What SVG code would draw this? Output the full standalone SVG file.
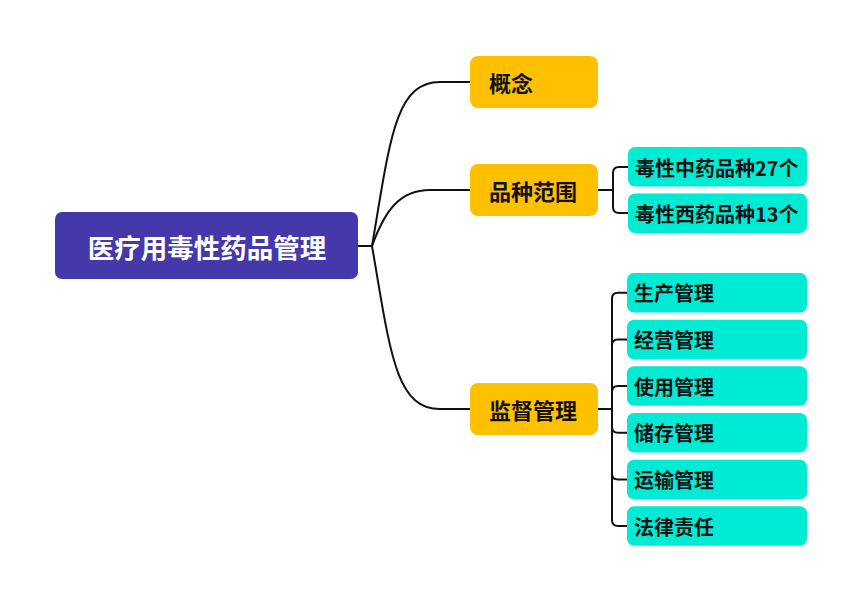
<svg xmlns="http://www.w3.org/2000/svg" width="858" height="604" viewBox="0 0 858 604">
<style>
.root{fill:#4538AA}
.main{fill:#FFC000}
.sub{fill:#00EBD4}
text{font-family:"Noto Sans CJK SC","Noto Sans",sans-serif;font-weight:bold;dominant-baseline:central}
.rt{fill:#fff;font-size:26.5px}
.mt{fill:#111;font-size:22px}
.st{fill:#111;font-size:20px}
.c{fill:none;stroke:#111;stroke-width:2}
</style>
<rect width="858" height="604" fill="#fff"/>
<g id="connectors">
<path class="c" d="M358,246 L372,246"/>
<path class="c" d="M372,246 C390,140 395,82 440,82 L470,82"/>
<path class="c" d="M372,246 C385,210 400,190 430,190 L470,190"/>
<path class="c" d="M372,246 C390,350 395,409 440,409 L470,409"/>
<path class="c" d="M598,190 L613,190 M628,167 L619,167 Q613,167 613,173 L613,207 Q613,213 619,213 L628,213"/>
<path class="c" d="M598,409 L612,409 M627,292.7 L618,292.7 Q612,292.7 612,298.7 L612,520 Q612,526 618,526 L627,526 M612,345.4 Q612,339.4 618,339.4 L627,339.4 M612,392 Q612,386 618,386 L627,386 M612,426.7 Q612,432.7 618,432.7 L627,432.7 M612,473.4 Q612,479.4 618,479.4 L627,479.4"/>
</g>
<g id="root"><rect class="root" x="55" y="212" width="303" height="67" rx="7"/><text class="rt" x="207" y="246" text-anchor="middle">医疗用毒性药品管理</text></g>
<g id="n1"><rect class="main" x="470" y="56" width="128" height="52" rx="8"/><text class="mt" x="489" y="82">概念</text></g>
<g id="n2"><rect class="main" x="470" y="164" width="128" height="52" rx="8"/><text class="mt" x="489" y="190">品种范围</text></g>
<g id="n3"><rect class="main" x="470" y="383" width="128" height="52" rx="8"/><text class="mt" x="489" y="409">监督管理</text></g>
<g id="s1"><rect class="sub" x="628" y="147" width="179" height="39.5" rx="7"/><text class="st" x="635" y="167">毒性中药品种27个</text></g>
<g id="s2"><rect class="sub" x="628" y="193.5" width="179" height="39.5" rx="7"/><text class="st" x="635" y="213">毒性西药品种13个</text></g>
<g id="s3"><rect class="sub" x="627" y="273" width="180" height="39.5" rx="7"/><text class="st" x="634" y="292.7">生产管理</text></g>
<g id="s4"><rect class="sub" x="627" y="319.7" width="180" height="39.5" rx="7"/><text class="st" x="634" y="339.4">经营管理</text></g>
<g id="s5"><rect class="sub" x="627" y="366.3" width="180" height="39.5" rx="7"/><text class="st" x="634" y="386">使用管理</text></g>
<g id="s6"><rect class="sub" x="627" y="413" width="180" height="39.5" rx="7"/><text class="st" x="634" y="432.7">储存管理</text></g>
<g id="s7"><rect class="sub" x="627" y="459.7" width="180" height="39.5" rx="7"/><text class="st" x="634" y="479.4">运输管理</text></g>
<g id="s8"><rect class="sub" x="627" y="506.3" width="180" height="39.5" rx="7"/><text class="st" x="634" y="526">法律责任</text></g>
</svg>
